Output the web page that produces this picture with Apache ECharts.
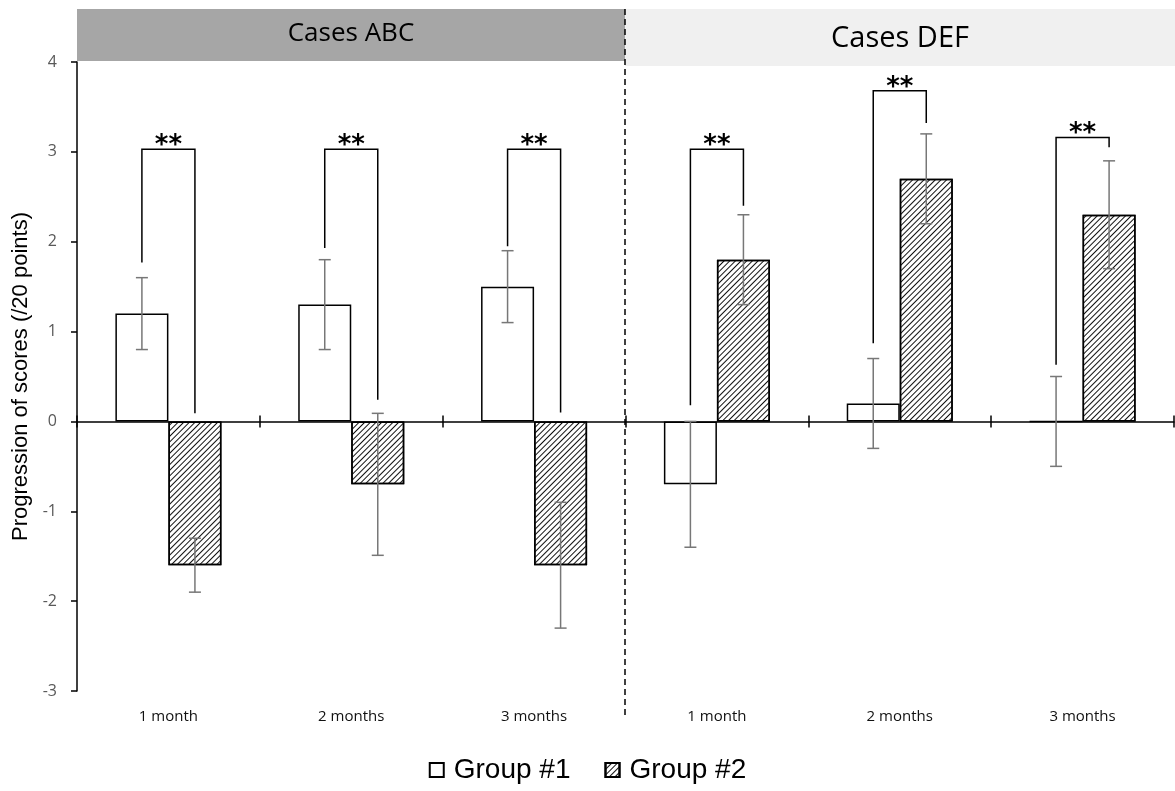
<!DOCTYPE html>
<html>
<head>
<meta charset="utf-8">
<script src="https://cdn.jsdelivr.net/npm/echarts@6/dist/echarts.min.js"></script>
<style>
  html, body { margin: 0; padding: 0; background: #fff; }
  #main { width: 1175px; height: 791px; }
</style>
</head>
<body>
<div id="main"></div>
<script>
// categories (two panels: Cases ABC / Cases DEF)
var categories = ['1 month', '2 months', '3 months', '1 month', '2 months', '3 months'];
var panels = ['Cases ABC', 'Cases DEF'];

// mean progression and error
var group1 = [1.2, 1.3, 1.5, -0.7, 0.2, 0];
var group1Err = [0.4, 0.5, 0.4, 0.7, 0.5, 0.5];
var group2 = [-1.6, -0.7, -1.6, 1.8, 2.7, 2.3];
var group2Err = [0.3, 0.79, 0.7, 0.5, 0.5, 0.6];

// significance brackets: start of left leg, start of right leg, top
var bracketLeft = [1.77, 1.93, 1.95, 0.18, 0.87, 0.63];
var bracketRight = [0.09, 0.24, 0.10, 2.4, 3.32, 3.05];
var bracketTop = [3.03, 3.03, 3.03, 3.03, 3.68, 3.16];
var stars = ['**', '**', '**', '**', '**', '**'];

var gridLeft = 77, gridRight = 1, gridTop = 62, gridBottom = 100;
var barShare = 0.29;

var myChart = echarts.init(document.getElementById('main'));

var errData = [];
for (var i = 0; i < categories.length; i++) {
	errData.push([i, group1[i], group1Err[i], 0]);
	errData.push([i, group2[i], group2Err[i], 1]);
}
var bracketData = [];
for (var j = 0; j < categories.length; j++) {
	bracketData.push([j, bracketLeft[j], bracketRight[j], bracketTop[j], stars[j]]);
}

function renderErr(params, api) {
	var cat = api.value(0), v = api.value(1), e = api.value(2), g = api.value(3);
	var bw = api.size([1, 0])[0];
	var off = (g === 0 ? -0.5 : 0.5) * barShare * bw;
	var hi = api.coord([cat, v + e]);
	var lo = api.coord([cat, v - e]);
	var x = hi[0] + off;
	var cap = 6;
	var st = { stroke: '#777', lineWidth: 1.5 };
	return {
		type: 'group',
		children: [
			{ type: 'line', shape: { x1: x, y1: hi[1], x2: x, y2: lo[1] }, style: st },
			{ type: 'line', shape: { x1: x - cap, y1: hi[1], x2: x + cap, y2: hi[1] }, style: st },
			{ type: 'line', shape: { x1: x - cap, y1: lo[1], x2: x + cap, y2: lo[1] }, style: st }
		]
	};
}

function renderBracket(params, api) {
	var cat = api.value(0);
	var bw = api.size([1, 0])[0];
	var half = 0.5 * barShare * bw;
	var pl = api.coord([cat, api.value(1)]);
	var pr = api.coord([cat, api.value(2)]);
	var pt = api.coord([cat, api.value(3)]);
	var xl = pl[0] - half, xr = pl[0] + half;
	return {
		type: 'group',
		children: [
			{
				type: 'polyline',
				shape: { points: [[xl, pl[1]], [xl, pt[1]], [xr, pt[1]], [xr, pr[1]]] },
				style: { stroke: '#000', lineWidth: 1.5, fill: null }
			},
			{
				type: 'text',
				x: (xl + xr) / 2, y: pt[1] + 10,
				style: {
					text: bracketData[params.dataIndex][4],
					fill: '#000', font: 'bold 26px "DejaVu Sans"',
					align: 'center', verticalAlign: 'bottom'
				}
			}
		]
	};
}

var midX = 625;
var hatch = {
	color: '#111',
	symbol: 'rect',
	dashArrayX: [1, 0],
	dashArrayY: [1, 2.8],
	rotation: -Math.PI / 4
};

var tickStyle = { color : '#000', width : 1.5 };

myChart.setOption({
	animation : false,
	grid : {
		left : gridLeft,
		right : gridRight,
		top : gridTop,
		bottom : gridBottom
	},
	legend : {
		data : [ 'Group #1', 'Group #2' ],
		bottom : 2,
		left : 'center',
		icon : 'rect',
		itemWidth : 14,
		itemHeight : 14,
		itemGap : 34,
		textStyle : {
			fontSize : 28,
			color : '#000',
			fontFamily : 'Liberation Sans',
			padding : [ 0, 0, 0, 5 ]
		}
	},
	xAxis : [ {
		type : 'category',
		data : categories,
		position : 'bottom',
		axisLine : { show : false, onZero : false },
		axisTick : { show : false },
		axisLabel : {
			margin : 18,
			fontSize : 15,
			color : '#111',
			fontFamily : 'Open Sans'
		}
	}, {
		type : 'category',
		data : categories,
		position : 'bottom',
		axisLine : { show : true, onZero : true, onZeroAxisIndex : 0, lineStyle : tickStyle },
		axisTick : { show : true, length : 6, lineStyle : tickStyle },
		axisLabel : { show : false }
	}, {
		type : 'category',
		data : categories,
		position : 'bottom',
		axisLine : { show : false, onZero : true, onZeroAxisIndex : 1 },
		axisTick : { show : true, inside : true, length : 6, lineStyle : tickStyle },
		axisLabel : { show : false }
	} ],
	yAxis : [ {
		type : 'value',
		min : -3,
		max : 4,
		interval : 1,
		name : 'Progression of scores (/20 points)',
		nameLocation : 'middle',
		nameGap : 44,
		nameRotate : 90,
		nameTextStyle : {
			fontSize : 22,
			color : '#000',
			fontFamily : 'Liberation Sans'
		},
		axisLine : { show : true, lineStyle : tickStyle },
		axisTick : { show : true, length : 6, lineStyle : tickStyle },
		axisLabel : {
			margin : 20,
			fontSize : 16,
			color : '#595959',
			fontFamily : 'Open Sans'
		},
		splitLine : { show : false }
	}, {
		type : 'value',
		min : -3,
		max : 4,
		interval : 1,
		axisLine : { show : false },
		axisTick : { show : false },
		axisLabel : { show : false },
		splitLine : { show : false }
	} ],
	series : [ {
		name : 'Group #1',
		type : 'bar',
		data : group1,
		barWidth : (barShare * 100) + '%',
		barGap : '0%',
		itemStyle : { color : '#fff', borderColor : '#000', borderWidth : 1.5 }
	}, {
		name : 'Group #2',
		type : 'bar',
		data : group2,
		barWidth : (barShare * 100) + '%',
		barGap : '0%',
		itemStyle : { color : '#fff', borderColor : '#000', borderWidth : 1.5, decal : hatch }
	}, {
		type : 'custom',
		name : 'err',
		data : errData,
		renderItem : renderErr,
		z : 5
	}, {
		type : 'custom',
		name : 'brackets',
		data : bracketData,
		renderItem : renderBracket,
		z : 5
	} ],
	graphic : [ {
		type : 'rect',
		shape : { x : gridLeft, y : 9, width : midX - gridLeft, height : 52 },
		style : { fill : '#a6a6a6' },
		z : -1
	}, {
		type : 'rect',
		shape : { x : midX, y : 9, width : 1175 - midX, height : 57 },
		style : { fill : '#f0f0f0' },
		z : -1
	}, {
		type : 'text',
		x : (gridLeft + midX) / 2,
		y : 34,
		style : { text : panels[0], fill : '#000', font : '26px "Open Sans"', align : 'center', verticalAlign : 'middle' }
	}, {
		type : 'text',
		x : (midX + 1175) / 2,
		y : 39,
		style : { text : panels[1], fill : '#000', font : '29px "Open Sans"', align : 'center', verticalAlign : 'middle' }
	}, {
		type : 'line',
		shape : { x1 : midX, y1 : 9, x2 : midX, y2 : 715 },
		style : { stroke : '#000', lineWidth : 1.5, lineDash : [ 6, 4 ] }
	} ]
});
</script>
</body>
</html>
